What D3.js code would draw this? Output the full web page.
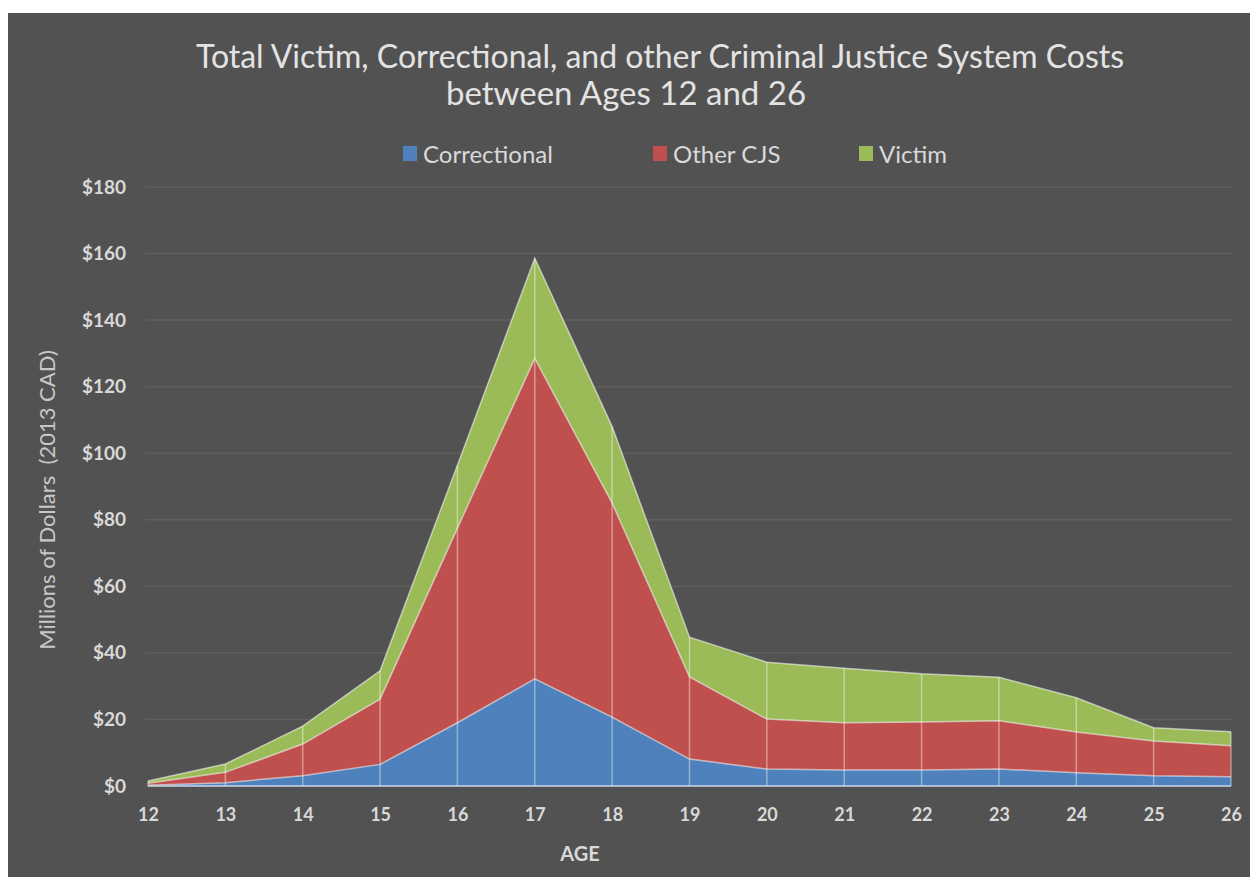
<!DOCTYPE html>
<html>
<head>
<meta charset="utf-8">
<script src="https://cdn.jsdelivr.net/npm/d3@7"></script>
<style>
  body { margin: 0; background: #ffffff; }
  text { font-family: Lato, "Open Sans", sans-serif; }
</style>
</head>
<body>
<div id="chart"></div>
<script>
// chart data (millions of 2013 CAD)
var ages = [12, 13, 14, 15, 16, 17, 18, 19, 20, 21, 22, 23, 24, 25, 26];
var correctional = [0.2, 1.0, 3.1, 6.5, 19.0, 32.2, 20.7, 8.1, 5.1, 4.8, 4.8, 5.1, 4.0, 3.1, 2.8];
var otherCJS = [0.6, 3.1, 9.5, 19.6, 58.5, 96.3, 64.3, 24.7, 15.0, 14.2, 14.4, 14.5, 12.2, 10.4, 9.3];
var victim = [0.7, 2.5, 5.4, 8.5, 18.9, 30.1, 23.0, 11.9, 17.1, 16.4, 14.5, 13.1, 10.3, 4.0, 4.2];
var seriesNames = ["Correctional", "Other CJS", "Victim"];
var seriesColors = ["#4f81bd", "#c0504d", "#9bbb59"];
var yTicks = [0, 20, 40, 60, 80, 100, 120, 140, 160, 180];

var W = 1250, H = 877;
var margin = {top: 187, right: 19, bottom: 91, left: 148};
var width = W - margin.left - margin.right,
    height = H - margin.top - margin.bottom;

var svg = d3.select("#chart").append("svg")
    .attr("width", W)
    .attr("height", H);

// dark panel
svg.append("rect")
    .attr("x", 8).attr("y", 13)
    .attr("width", W - 8).attr("height", H - 13)
    .style("fill", "#525252");

var g = svg.append("g")
    .attr("transform", "translate(" + margin.left + "," + margin.top + ")");

var x = d3.scaleLinear().domain([12, 26]).range([0, width]);
var y = d3.scaleLinear().domain([0, 180]).range([height, 0]);

// gridlines
g.append("g")
  .selectAll("line")
  .data(yTicks)
  .enter().append("line")
    .attr("x1", -3).attr("x2", width + 1)
    .attr("y1", function(d) { return y(d); })
    .attr("y2", function(d) { return y(d); })
    .style("stroke", "#5f5f5f")
    .style("stroke-width", 1.5);

// stack the series
var rows = ages.map(function(a, i) {
  return {age: a, "Correctional": correctional[i], "Other CJS": otherCJS[i], "Victim": victim[i]};
});
var stacked = d3.stack().keys(seriesNames)(rows);

var area = d3.area()
    .x(function(d) { return x(d.data.age); })
    .y0(function(d) { return y(d[0]); })
    .y1(function(d) { return y(d[1]); });

var topLine = d3.line()
    .x(function(d) { return x(d.data.age); })
    .y(function(d) { return y(d[1]); });

g.selectAll(".area")
  .data(stacked)
  .enter().append("path")
    .attr("class", "area")
    .attr("d", area)
    .style("fill", function(d, i) { return seriesColors[i]; });

// light vertical separators at each age
var topBand = stacked[stacked.length - 1];
g.append("g")
  .selectAll("line")
  .data(topBand)
  .enter().append("line")
    .attr("x1", function(d) { return x(d.data.age); })
    .attr("x2", function(d) { return x(d.data.age); })
    .attr("y1", y(0))
    .attr("y2", function(d) { return y(d[1]); })
    .style("stroke", "#ffffff")
    .style("stroke-opacity", 0.4)
    .style("stroke-width", 1.5);

// light outline on top of each band
g.selectAll(".edge")
  .data(stacked)
  .enter().append("path")
    .attr("class", "edge")
    .attr("d", topLine)
    .style("fill", "none")
    .style("stroke", "#ffffff")
    .style("stroke-opacity", 0.55)
    .style("stroke-width", 1.5);

g.append("line")
    .attr("x1", 0).attr("x2", width)
    .attr("y1", y(0)).attr("y2", y(0))
    .style("stroke", "#c8d6ea")
    .style("stroke-width", 1.5);

// axes
var yAxis = g.append("g")
    .call(d3.axisLeft(y).tickValues(yTicks).tickSize(0).tickPadding(22)
      .tickFormat(function(d) { return "$" + d; }));
yAxis.select(".domain").remove();
yAxis.selectAll("text")
    .style("fill", "#d9d9d9")
    .style("font-size", "19px")
    .style("font-weight", "bold");

var xAxis = g.append("g")
    .attr("transform", "translate(0," + height + ")")
    .call(d3.axisBottom(x).tickValues(ages).tickSize(0).tickPadding(22)
      .tickFormat(d3.format("d")));
xAxis.select(".domain").remove();
xAxis.selectAll("text")
    .style("fill", "#d9d9d9")
    .style("font-size", "18px")
    .style("font-weight", "bold");

g.append("text")
    .attr("x", 432).attr("y", height + 75)
    .style("text-anchor", "middle")
    .style("fill", "#d9d9d9")
    .style("font-size", "20px")
    .style("font-weight", "bold")
    .text("AGE");

g.append("text")
    .attr("transform", "rotate(-90)")
    .attr("x", -(500 - margin.top))
    .attr("y", -93)
    .style("text-anchor", "middle")
    .style("fill", "#c8c8c8")
    .style("font-size", "22px")
    .style("white-space", "pre")
    .text("Millions of Dollars  (2013 CAD)");

// title
svg.append("text")
    .attr("x", 660).attr("y", 68)
    .style("text-anchor", "middle")
    .style("fill", "#e3e3e3")
    .style("font-size", "32px")
    .text("Total Victim, Correctional, and other Criminal Justice System Costs");
svg.append("text")
    .attr("x", 626).attr("y", 105)
    .style("text-anchor", "middle")
    .style("fill", "#e3e3e3")
    .style("font-size", "33px")
    .text("between Ages 12 and 26");

// legend
var legendX = [403, 653, 859];
var legend = svg.selectAll(".legend")
  .data(seriesNames)
  .enter().append("g")
    .attr("class", "legend")
    .attr("transform", function(d, i) { return "translate(" + legendX[i] + ",155)"; });
legend.append("rect")
    .attr("x", 0).attr("y", -9)
    .attr("width", 14).attr("height", 15)
    .style("fill", function(d, i) { return seriesColors[i]; });
legend.append("text")
    .attr("x", 20).attr("y", 8)
    .style("fill", "#d9d9d9")
    .style("font-size", "24px")
    .text(function(d) { return d; });
</script>
</body>
</html>
